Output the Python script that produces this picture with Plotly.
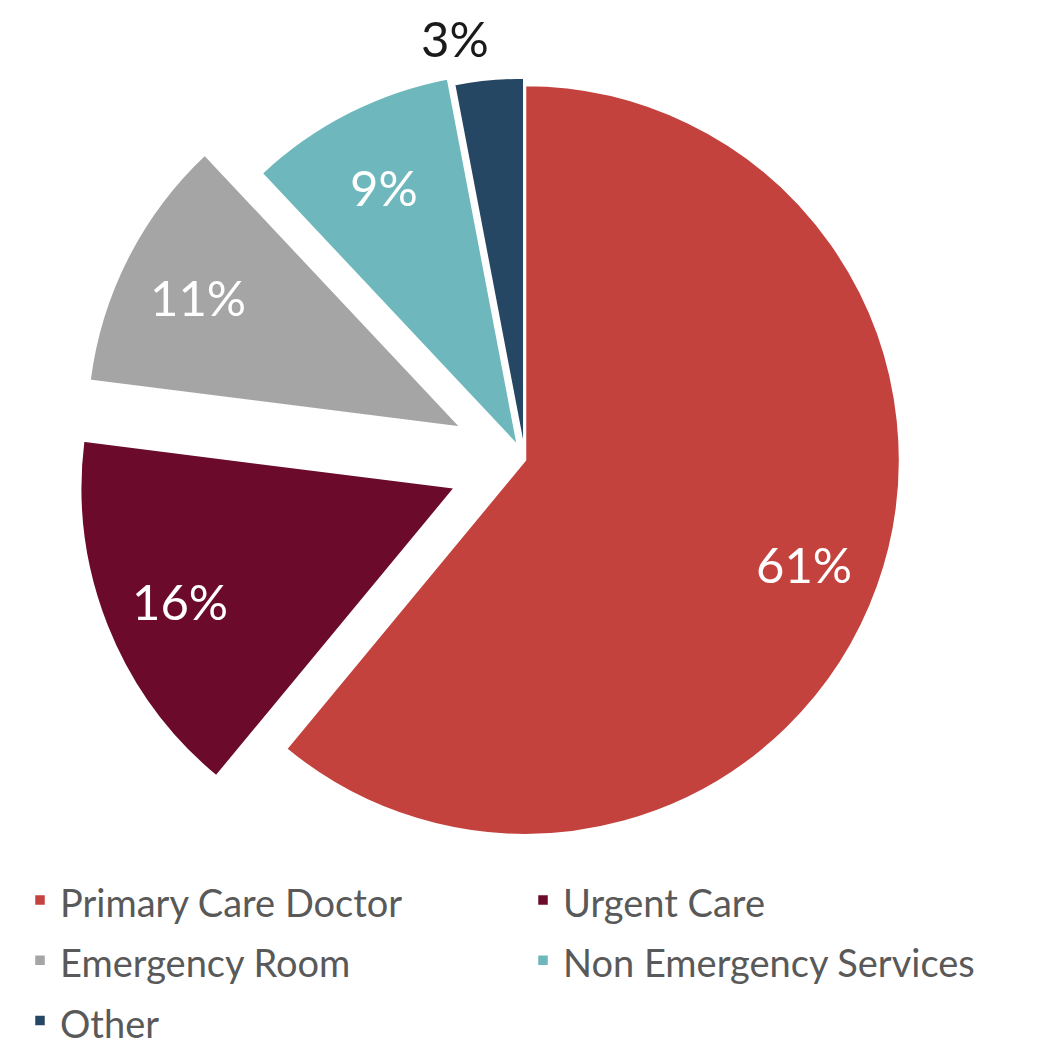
import math
import plotly.graph_objects as go

categories = ["Primary Care Doctor", "Urgent Care", "Emergency Room", "Non Emergency Services", "Other"]
values = [61, 16, 11, 9, 3]
colors = ["#C3423D", "#6B0A2A", "#A5A5A5", "#6EB8BD", "#264763"]
pulls = [0, 0.2, 0.19, 0.04, 0.02]

W, H = 1051, 1045
cx, cy, r = 517, 452, 375
avail = r * (2 + 2 * max(pulls))

legend_labels = [f"<span style='font-size:38px'>{c}</span>" for c in categories]

fig = go.Figure(go.Pie(
    labels=legend_labels,
    values=values,
    sort=False,
    direction="clockwise",
    rotation=0,
    pull=pulls,
    marker=dict(colors=colors, line=dict(color="white", width=2.5)),
    textinfo="none",
    hovertemplate="%{label}: %{percent:.0%}<extra></extra>",
    domain=dict(x=[max(0, (cx - avail / 2) / W), min(1, (cx + avail / 2) / W)],
                y=[max(0, 1 - (cy + avail / 2) / H), min(1, 1 - (cy - avail / 2) / H)]),
    showlegend=True,
))

# percentage labels, placed along each slice's mid angle (derived from the values)
total = sum(values)
start = 0
for i, v in enumerate(values):
    mid = (start + v / 2) / total
    start += v
    th = 2 * math.pi * mid
    dx, dy = math.sin(th), -math.cos(th)
    pct = f"{v / total:.0%}"
    if i == len(values) - 1:
        # small slice: label sits above the pie
        px, py, col = 447, 30, "#1a1a1a"
    else:
        ox, oy = cx + pulls[i] * r * dx, cy + 4 + pulls[i] * r * dy
        px, py, col = ox + 0.79 * r * dx, oy + 0.79 * r * dy, "white"
    fig.add_annotation(
        x=px / W, y=1 - py / H, xref="paper", yref="paper",
        xanchor="center", yanchor="middle", text=pct, showarrow=False,
        font=dict(family="Lato", size=49, color=col),
    )

fig.update_layout(
    width=W, height=H,
    margin=dict(l=0, r=0, t=0, b=0, autoexpand=False),
    paper_bgcolor="white",
    font=dict(family="Lato", color="#595959"),
    legend=dict(
        orientation="h",
        x=12 / W, y=1 - 857 / H, xanchor="left", yanchor="top",
        font=dict(family="Lato", size=44, color="#595959"),
        entrywidth=458, entrywidthmode="pixels",
        traceorder="normal",
    ),
)

fig.write_html("out.html")
